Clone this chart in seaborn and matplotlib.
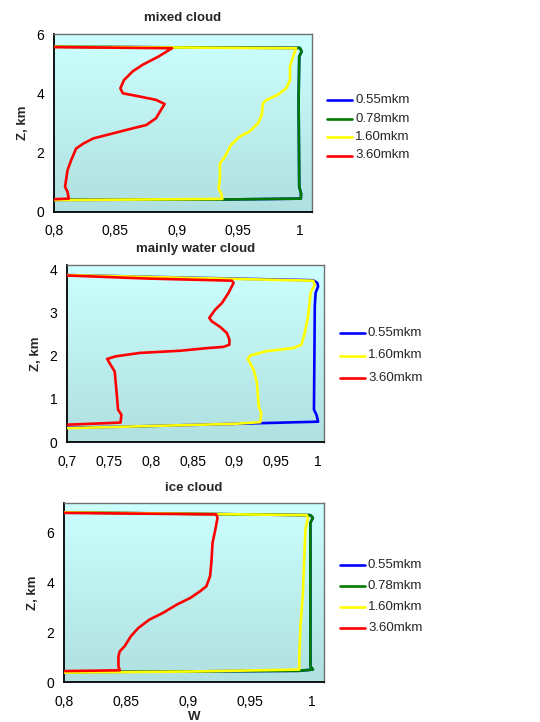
import numpy as np
import pandas as pd
import matplotlib
matplotlib.use("Agg")
import matplotlib.pyplot as plt
from matplotlib.colors import LinearSegmentedColormap
import seaborn as sns

sns.set_theme(style="white")
plt.rcParams['font.family'] = ['Liberation Sans', 'DejaVu Sans']

# ---------------- data ----------------
labels = ["0.55mkm", "0.78mkm", "1.60mkm", "3.60mkm"]
colors = {"0.55mkm": "#0000ff", "0.78mkm": "#007a00", "1.60mkm": "#ffff00", "3.60mkm": "#ff0000"}

# mixed cloud
mix_red_w = [0.800, 0.896, 0.885, 0.872, 0.864, 0.857, 0.854, 0.856, 0.870, 0.883, 0.890, 0.887,
             0.883, 0.875, 0.864, 0.848, 0.832, 0.824, 0.818, 0.814, 0.811, 0.809, 0.811, 0.812, 0.800]
mix_red_z = [5.56, 5.52, 5.24, 4.96, 4.74, 4.45, 4.17, 4.00, 3.89, 3.78, 3.64, 3.44,
             3.16, 2.93, 2.82, 2.65, 2.48, 2.31, 2.14, 1.75, 1.41, 0.85, 0.68, 0.45, 0.43]
mix_yel_w = [0.800, 0.997, 0.995, 0.992, 0.992, 0.989, 0.982, 0.973, 0.970, 0.969, 0.966, 0.959,
             0.951, 0.944, 0.939, 0.935, 0.935, 0.934, 0.936, 0.937, 0.800]
mix_yel_z = [5.57, 5.52, 5.30, 4.91, 4.45, 4.17, 3.95, 3.78, 3.67, 3.27, 2.99, 2.71,
             2.54, 2.26, 1.86, 1.64, 1.18, 0.79, 0.62, 0.44, 0.40]
mix_grn_w = [0.800, 1.000, 1.0015, 0.9995, 0.999, 0.9995, 1.001, 1.0008, 0.936, 0.800]
mix_grn_z = [5.57, 5.53, 5.41, 5.24, 3.78, 0.85, 0.62, 0.45, 0.42, 0.41]
mix_blu_w = [0.800, 1.000, 1.0015, 0.9995, 0.999, 0.9995, 1.001, 1.0008, 0.936, 0.800]
mix_blu_z = [5.57, 5.53, 5.41, 5.24, 3.78, 0.85, 0.62, 0.45, 0.42, 0.41]

# mainly water cloud
wat_red_w = [0.700, 0.795, 0.897, 0.899, 0.893, 0.885, 0.877, 0.870, 0.873, 0.883, 0.891, 0.894,
             0.894, 0.887, 0.867, 0.835, 0.787, 0.758, 0.748, 0.752, 0.757, 0.759, 0.761, 0.765,
             0.764, 0.740, 0.700]
wat_red_z = [3.85, 3.78, 3.73, 3.68, 3.45, 3.21, 3.06, 2.87, 2.79, 2.66, 2.52, 2.37,
             2.25, 2.20, 2.17, 2.11, 2.06, 1.98, 1.92, 1.79, 1.63, 1.21, 0.75, 0.63,
             0.45, 0.43, 0.40]
wat_yel_w = [0.700, 0.994, 0.996, 0.991, 0.988, 0.984, 0.980, 0.970, 0.938, 0.919, 0.916, 0.923,
             0.927, 0.929, 0.932, 0.931, 0.900, 0.800, 0.700]
wat_yel_z = [3.86, 3.73, 3.64, 3.45, 2.91, 2.52, 2.25, 2.17, 2.10, 2.00, 1.92, 1.67,
             1.36, 0.82, 0.67, 0.46, 0.42, 0.37, 0.32]
wat_blu_w = [0.700, 0.994, 0.999, 1.000, 0.997, 0.996, 0.995, 0.998, 1.000, 0.940, 0.860, 0.780, 0.700]
wat_blu_z = [3.86, 3.74, 3.68, 3.60, 3.45, 3.14, 0.75, 0.63, 0.47, 0.44, 0.40, 0.36, 0.33]

# ice cloud
ice_red_w = [0.800, 0.923, 0.924, 0.922, 0.920, 0.919, 0.918, 0.915, 0.910, 0.902, 0.891, 0.880,
             0.869, 0.860, 0.854, 0.849, 0.845, 0.844, 0.844, 0.845, 0.800]
ice_red_z = [6.80, 6.74, 6.60, 6.07, 5.60, 4.79, 4.26, 3.85, 3.65, 3.38, 3.11, 2.78,
             2.51, 2.17, 1.84, 1.44, 1.23, 1.03, 0.63, 0.47, 0.44]
ice_yel_w = [0.800, 0.996, 0.997, 0.995, 0.994, 0.993, 0.991, 0.990, 0.990, 0.900, 0.800]
ice_yel_z = [6.82, 6.71, 6.60, 6.13, 4.93, 3.58, 2.24, 0.90, 0.50, 0.42, 0.38]
ice_grn_w = [0.800, 0.999, 1.001, 0.999, 0.999, 1.001, 0.990, 0.800]
ice_grn_z = [6.82, 6.71, 6.60, 6.40, 0.63, 0.50, 0.45, 0.40]
ice_blu_w = [0.800, 0.999, 1.001, 0.999, 0.999, 1.001, 0.990, 0.800]
ice_blu_z = [6.82, 6.71, 6.60, 6.40, 0.63, 0.50, 0.45, 0.40]

mix_xticks = [0.8, 0.85, 0.9, 0.95, 1.0]
mix_xlabels = ["0,8", "0,85", "0,9", "0,95", "1"]
mix_yticks = [0, 2, 4, 6]
wat_xticks = [0.7, 0.75, 0.8, 0.85, 0.9, 0.95, 1.0]
wat_xlabels = ["0,7", "0,75", "0,8", "0,85", "0,9", "0,95", "1"]
wat_yticks = [0, 1, 2, 3, 4]
ice_xticks = [0.8, 0.85, 0.9, 0.95, 1.0]
ice_xlabels = ["0,8", "0,85", "0,9", "0,95", "1"]
ice_yticks = [0, 2, 4, 6]

titles = ["mixed cloud", "mainly water cloud", "ice cloud"]


def frame(series):
    rows = []
    for lab, (w, z) in series.items():
        for i, (a, b) in enumerate(zip(w, z)):
            rows.append({"W": a, "Z": b, "lam": lab, "i": i})
    return pd.DataFrame(rows)


panels = [
    dict(series={"0.55mkm": (mix_blu_w, mix_blu_z), "0.78mkm": (mix_grn_w, mix_grn_z),
                 "1.60mkm": (mix_yel_w, mix_yel_z), "3.60mkm": (mix_red_w, mix_red_z)},
         pos=[0.100, 0.7064, 0.478, 0.2465], xlim=(0.8, 1.01), ylim=(0, 6.0),
         xt=mix_xticks, xl=mix_xlabels, yt=mix_yticks, ymin=[1, 3, 5],
         xmin=[0.825, 0.875, 0.925, 0.975], leg=(327, 100, 18.5), title_y=18),
    dict(series={"0.55mkm": (wat_blu_w, wat_blu_z),
                 "1.60mkm": (wat_yel_w, wat_yel_z), "3.60mkm": (wat_red_w, wat_red_z)},
         pos=[0.124, 0.3878, 0.476, 0.245], xlim=(0.7, 1.007), ylim=(0, 4.09),
         xt=wat_xticks, xl=wat_xlabels, yt=wat_yticks, ymin=[0.5, 1.5, 2.5, 3.5],
         xmin=[0.725, 0.775, 0.825, 0.875, 0.925, 0.975], leg=(340, 333, 22.5), title_y=249),
    dict(series={"0.55mkm": (ice_blu_w, ice_blu_z), "0.78mkm": (ice_grn_w, ice_grn_z),
                 "1.60mkm": (ice_yel_w, ice_yel_z), "3.60mkm": (ice_red_w, ice_red_z)},
         pos=[0.1185, 0.0554, 0.4815, 0.248], xlim=(0.8, 1.01), ylim=(0, 7.2),
         xt=ice_xticks, xl=ice_xlabels, yt=ice_yticks, ymin=[1, 3, 5, 7],
         xmin=[0.825, 0.875, 0.925, 0.975], leg=(340, 565, 21), title_y=488),
]

W, H = 540, 722
fig = plt.figure(figsize=(W / 100, H / 100), dpi=100)
cmap = LinearSegmentedColormap.from_list("bg", ["#ccffff", "#b0e0e0"])
grad = np.linspace(0, 1, 256).reshape(-1, 1)

for k, p in enumerate(panels):
    ax = fig.add_axes(p["pos"])
    ax.imshow(grad, cmap=cmap, aspect="auto", extent=[0, 1, 0, 1],
              transform=ax.transAxes, zorder=0)
    df = frame(p["series"])
    order = list(p["series"].keys())
    for lab in order:
        sub = df[df["lam"] == lab]
        sns.lineplot(data=sub, x="W", y="Z", sort=False, estimator=None, ax=ax,
                     color=colors[lab], lw=1.9, legend=False, zorder=3)
    ax.set_xlim(*p["xlim"])
    ax.set_ylim(*p["ylim"])
    ax.set_xticks(p["xt"])
    ax.set_xticklabels(p["xl"])
    ax.set_yticks(p["yt"])
    ax.set_xticks(p["xmin"], minor=True)
    ax.set_yticks(p["ymin"], minor=True)
    ax.tick_params(axis="both", which="both", direction="in", labelsize=10,
                   colors="black", length=3, width=0.8)
    ax.tick_params(axis="x", which="major", pad=9)
    ax.tick_params(axis="y", which="major", pad=7)
    ax.set_xlabel("")
    ax.set_ylabel("Z, km", fontsize=9.5, fontweight="bold", labelpad=5)
    for s in ["left", "bottom"]:
        ax.spines[s].set_color("black")
        ax.spines[s].set_linewidth(1.3)
    for s in ["top", "right"]:
        ax.spines[s].set_color("#707070")
        ax.spines[s].set_linewidth(1.0)
    ax.grid(False)
    # title
    cx = (p["pos"][0] + p["pos"][2] / 2)
    fig.text(cx, 1 - p["title_y"] / H, titles[k], ha="center", va="center",
             fontsize=9.5, fontweight="bold")
    # legend (manual, figure coordinates)
    lx, ly, dy = p["leg"]
    for j, lab in enumerate(order):
        yy = 1 - (ly + j * dy) / H
        fig.add_artist(plt.Line2D([lx / W, (lx + 25) / W], [yy, yy],
                                  color=colors[lab], lw=1.9, transform=fig.transFigure))
        fig.text((lx + 28) / W, yy, lab, ha="left", va="center", fontsize=9.5)
    if k == 2:
        ax.set_xlabel("W", fontsize=9.5, fontweight="bold", labelpad=2)

fig.savefig("out.png", dpi=100, facecolor="white")
